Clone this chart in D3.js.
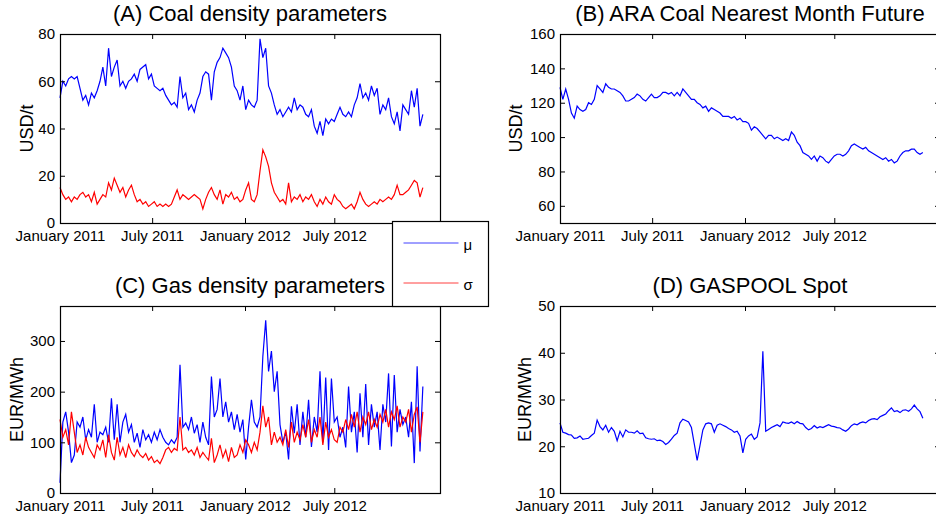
<!DOCTYPE html>
<html>
<head>
<meta charset="utf-8">
<script src="https://cdn.jsdelivr.net/npm/d3@7"></script>
<style>
  body { margin: 0; background: #fff; }
  text { font-family: "Liberation Sans", Arial, Helvetica, sans-serif; fill: #000; }
</style>
</head>
<body>
<div class="chart"></div>
<script>

// x axis is the trading-day index, one sample every 4 trading days
var step = 4;
var tickDays = [0, 129, 259, 384],
    tickNames = ["January 2011", "July 2011", "January 2012", "July 2012"];

// (A) coal density parameters, USD/t
var coalMu = [53,60,58,61,62, 61,62,57,52,54, 50,55,53,56,60, 66,58,74,62,66,
    69,58,60,57,60, 61,63,60,65,66, 67,61,63,58,57, 56,57,54,52,50,
    51,49,62,53,55, 48,50,47,52,55, 62,64,63,52,64, 68,70,74,72,70,
    66,58,56,52,58, 48,52,50,49,52, 78,70,74,58,55, 50,46,48,45,47,
    49,47,53,48,50, 49,46,45,48,41, 38,43,37,44,42, 44,43,46,49,46,
    45,47,45,50,53, 59,53,55,52,58, 54,57,46,50,48, 53,45,42,47,39,
    50,48,46,56,49, 57,41,46];
var coalSigma = [15,12,10,11,9, 11,10,12,13,11, 12,9,13,8,10, 12,11,17,14,19,
    16,13,15,11,14, 16,12,9,10,8, 9,7,8,9,7, 8,7,8,7,8,
    11,14,10,12,11, 10,11,12,11,10, 6,10,13,15,12, 10,14,8,12,11,
    13,10,11,9,10, 14,17,10,9,12, 22,31,28,24,17, 13,11,9,10,8,
    17,9,11,10,12, 9,11,10,12,9, 7,10,8,11,9, 8,12,10,9,7,
    6,7,8,6,9, 13,10,8,7,8, 9,8,10,9,10, 11,10,12,16,12,
    12,13,14,16,18, 17,11,15];

// (B) ARA coal nearest month future, USD/t
var coalFuture = [129,122,128,122,114, 111,118,116,115,116, 120,119,122,130,128, 126,131,129,128,128,
    127,126,124,121,121, 122,123,125,124,122, 121,123,125,123,123, 124,126,126,125,126,
    124,126,124,128,126, 124,122,122,120,119, 117,118,115,117,116, 115,114,112,112,112,
    111,112,110,111,109, 109,108,104,106,105, 103,101,99,101,101, 99,100,99,98,99,
    98,103,101,97,95, 91,90,89,87,89, 86,89,88,86,85, 87,89,90,90,89,
    90,92,95,96,95, 94,93,94,92,91, 90,89,88,87,88, 86,87,85,86,89,
    91,92,92,93,93, 91,90,91];

// (C) gas density parameters, EUR/MWh
var gasMu = [20,140,160,120,60, 75,140,130,150,105, 125,110,175,100,120, 115,130,100,187,105,
    175,100,140,155,120, 135,100,118,90,125, 105,115,100,120,105, 125,110,100,95,105,
    98,110,253,130,138, 125,150,118,135,100, 140,110,95,230,150, 165,226,150,180,140,
    160,125,155,120,145, 66,130,184,140,130, 150,270,341,240,280, 200,240,135,100,120,
    66,171,118,175,95, 160,110,184,91,150, 120,240,100,228,85, 226,140,150,110,130,
    90,210,120,160,80, 197,110,215,95,175, 130,160,85,175,140, 236,92,233,120,165,
    135,150,110,180,59, 250,82,210];
var gasSigma = [145,110,125,95,160, 120,80,95,75,110, 90,80,70,95,85, 105,70,115,80,65,
    110,75,90,70,95, 80,72,85,75,70, 78,65,72,60,65, 58,70,85,90,80,
    88,84,150,85,90, 80,85,75,90,70, 80,72,65,108,60, 75,95,70,85,62,
    90,70,75,95,80, 105,95,80,100,85, 120,172,130,150,95, 120,100,110,95,125,
    90,140,100,120,105, 135,110,145,100,125, 110,150,95,140,110, 125,105,100,130,120,
    145,125,155,130,160, 120,150,135,160,125, 145,130,155,140,165, 130,160,145,172,130,
    150,140,165,120,155, 170,100,160];

// (D) GASPOOL spot, EUR/MWh
var gasSpot = [25,23,22.8,22.5,22.4, 21.7,21.8,22.2,21.5,21.6, 21.7,22.3,22.8,25.6,24.2,
    23.5,24.5,23.0,24.0,23.2, 21.2,23.2,22.0,23.5,23.0, 23.0,22.8,23.3,22.7,22.8,
    21.8,21.6,21.5,21.6,21.2, 21.3,21.0,20.4,20.8,21.5, 22.3,22.8,25.0,25.8,25.5,
    25.2,24.0,20.5,17.0,20.2, 23.5,24.8,25.0,24.8,23.0, 24.5,24.8,24.5,24.2,23.8,
    23.5,23.0,23.2,22.2,18.6, 21.5,22.2,22.6,21.5,22.0, 25.0,40.3,23.2,23.6,24.0,
    24.3,24.6,24.2,25.2,25.0, 24.9,25.2,24.8,25.3,24.9, 24.8,24.0,23.5,23.8,24.4,
    23.9,24.2,24.0,24.3,24.6, 24.3,24.2,24.0,23.9,23.5, 23.2,23.7,24.4,24.8,24.6,
    25.0,25.2,25.0,25.5,25.8, 25.9,25.7,26.3,26.6,26.9, 27.6,28.2,27.4,27.6,27.2,
    27.7,27.8,27.5,28.0,28.8, 28.0,27.4,26.0];

var blue = "#0000ff", red = "#ff0000";

var width = 936,
    height = 522;

var svg = d3.select(".chart").append("svg")
    .attr("width", width)
    .attr("height", height);

var panels = [
    {title: "(A) Coal density parameters", ylabel: "USD/t", left: 60, top: 34, h: 189,
     ydom: [0, 80], yticks: [0, 20, 40, 60, 80], labelX: 33,
     series: [[coalMu, blue], [coalSigma, red]]},
    {title: "(B) ARA Coal Nearest Month Future", ylabel: "USD/t", left: 560, top: 34, h: 189,
     ydom: [50, 160], yticks: [60, 80, 100, 120, 140, 160], labelX: 522,
     series: [[coalFuture, blue]]},
    {title: "(C) Gas density parameters", ylabel: "EUR/MWh", left: 60, top: 306, h: 187,
     ydom: [0, 369], yticks: [0, 100, 200, 300], labelX: 23,
     series: [[gasMu, blue], [gasSigma, red]]},
    {title: "(D) GASPOOL Spot", ylabel: "EUR/MWh", left: 560, top: 306, h: 187,
     ydom: [10, 50], yticks: [10, 20, 30, 40, 50], labelX: 531,
     series: [[gasSpot, blue]]}
];

var w = 380;

panels.forEach(function(p) {
    var g = svg.append("g")
        .attr("transform", "translate(" + p.left + "," + p.top + ")");

    var x = d3.scaleLinear().domain([0, 532]).range([0, w]);
    var y = d3.scaleLinear().domain(p.ydom).range([p.h, 0]);

    var line = d3.line()
        .x(function(d, i) { return x(i * step); })
        .y(function(d) { return y(d); });

    p.series.forEach(function(s) {
        g.append("path")
            .datum(s[0])
            .attr("d", line)
            .attr("fill", "none")
            .attr("stroke", s[1])
            .attr("stroke-width", 1.2);
    });

    // inward ticks on all four sides, MATLAB style
    var bottom = g.append("g")
        .attr("transform", "translate(0," + p.h + ")")
        .call(d3.axisBottom(x).tickValues(tickDays)
            .tickFormat(function(d, i) { return tickNames[i]; })
            .tickSizeInner(-5).tickSizeOuter(0));
    bottom.selectAll("text").attr("y", 18).attr("dy", null).style("font-size", "15px");

    g.append("g")
        .call(d3.axisTop(x).tickValues(tickDays).tickFormat("").tickSizeInner(-5).tickSizeOuter(0));

    var left = g.append("g")
        .call(d3.axisLeft(y).tickValues(p.yticks).tickSizeInner(-5).tickSizeOuter(0).tickPadding(5));
    left.selectAll("text").style("font-size", "15px");

    g.append("g")
        .attr("transform", "translate(" + w + ",0)")
        .call(d3.axisRight(y).tickValues(p.yticks).tickFormat("").tickSizeInner(-5).tickSizeOuter(0));

    g.selectAll(".domain").remove();
    g.selectAll(".tick line").attr("stroke", "#000");
    g.selectAll(".tick text").attr("font-family", null).attr("fill", "#000");

    g.append("rect")
        .attr("x", 0.5).attr("y", 0.5)
        .attr("width", w).attr("height", p.h)
        .attr("fill", "none")
        .attr("stroke", "#000")
        .attr("stroke-width", 1.2);

    svg.append("text")
        .attr("x", p.left + w / 2)
        .attr("y", p.top - 13)
        .attr("text-anchor", "middle")
        .style("font-size", "22px")
        .text(p.title);

    svg.append("text")
        .attr("transform", "translate(" + p.labelX + "," + (p.top + p.h / 2) + ") rotate(-90)")
        .attr("text-anchor", "middle")
        .style("font-size", "18px")
        .text(p.ylabel);
});

// legend box sits between panels A and C
var legend = svg.append("g").attr("transform", "translate(392.5,221.5)");
legend.append("rect")
    .attr("width", 96).attr("height", 85)
    .attr("fill", "#fff").attr("stroke", "#000").attr("stroke-width", 1.2);
[["\u03bc", blue], ["\u03c3", red]].forEach(function(d, i) {
    legend.append("line")
        .attr("x1", 11).attr("x2", 66)
        .attr("y1", 21.5 + i * 40).attr("y2", 21.5 + i * 40)
        .attr("stroke", d[1]).attr("stroke-opacity", 0.75);
    legend.append("text")
        .attr("x", 71).attr("y", 28 + i * 40)
        .style("font-size", "15px")
        .text(d[0]);
});

</script>
</body>
</html>
